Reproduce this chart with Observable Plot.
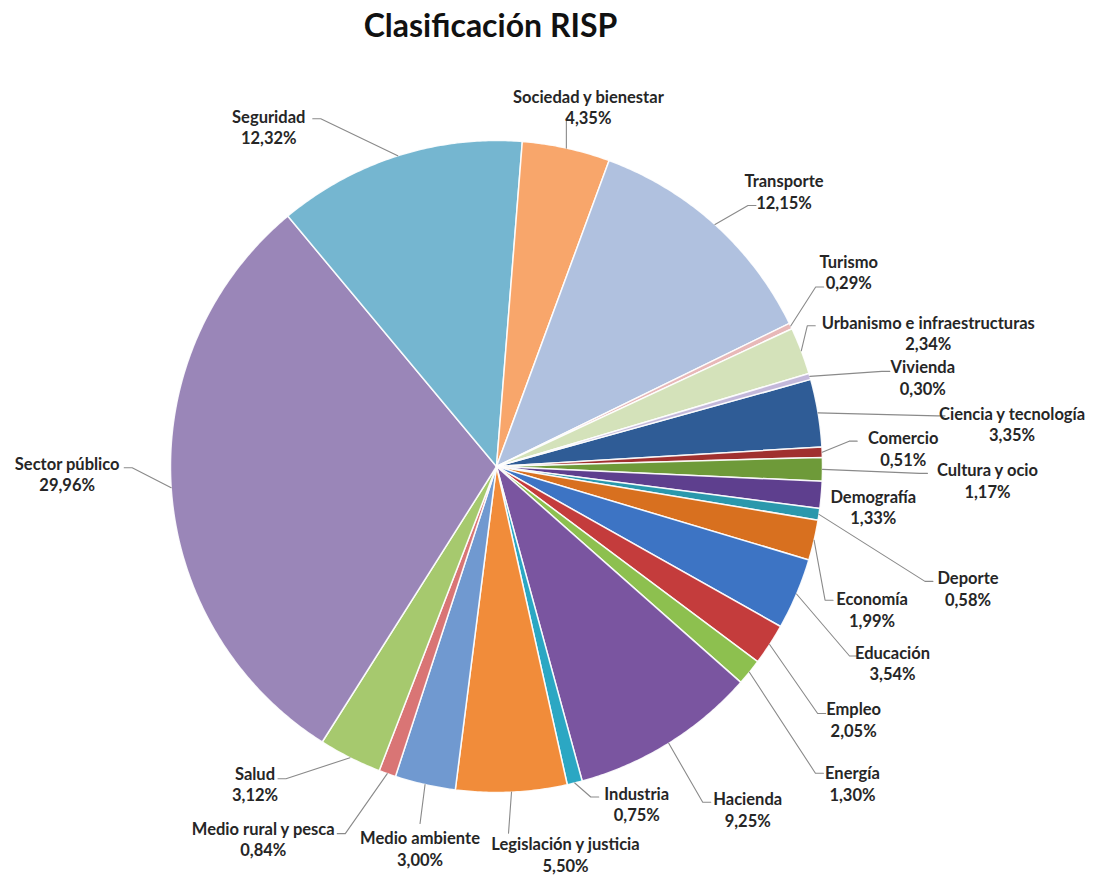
<!DOCTYPE html>
<html><head><meta charset="utf-8">
<script src="https://cdn.jsdelivr.net/npm/d3@7"></script>
<script src="https://cdn.jsdelivr.net/npm/@observablehq/plot@0.6"></script>
<style>
body{margin:0;background:#fff;}
#title{height:72px;box-sizing:border-box;padding-top:9px;width:981px;text-align:center;font:bold 32px/32px Lato,sans-serif;color:#111;}
#chart svg{display:block;}
</style></head><body>
<div id="title">Clasificación RISP</div>
<div id="chart"></div>
<script>
// ---- data ----
const categories = ["Ciencia y tecnología","Comercio","Cultura y ocio","Demografía","Deporte","Economía","Educación","Empleo","Energía","Hacienda","Industria","Legislación y justicia","Medio ambiente","Medio rural y pesca","Salud","Sector público","Seguridad","Sociedad y bienestar","Transporte","Turismo","Urbanismo e infraestructuras","Vivienda"];
const values = [3.35,0.51,1.17,1.33,0.58,1.99,3.54,2.05,1.30,9.25,0.75,5.50,3.00,0.84,3.12,29.96,12.32,4.35,12.15,0.29,2.34,0.30];
// ---- styles ----
const colors = ["#2F5C96","#A0302F","#6E9A39","#5E3F8E","#2A98AC","#D8701F","#3D74C4","#C43C3C","#8DC04F","#7A55A0","#2BA7C3","#F18C3A","#7099D0","#D97575","#A6C96E","#9A86B8","#75B6D0","#F8A66B","#B0C1DF","#E8B8B8","#D4E2BA","#C3B8DA"];
// label layout (px offsets from slice edge at mid-angle): [textX, textY, leaderX, leaderY, side]
const labelLayout = [
  [194,0,127,3,"l"],[81,-15,35,-11,"l"],[165,0,105,4,"l"],[52,1,null,null,null],
  [149,63,114,67,"l"],[58,58,19,60,"l"],[96,58,61,62,"l"],[84,64,56,69,"l"],
  [103,100,74,101,"l"],[79,55,42,59,"l"],[62,10,24,14,"l"],[54,51,-3,41,"v"],
  [-5,53,-5,39,"v"],[-124,54,-50,60,"r"],[-95,15,-72,21,"r"],[-104,-25,-47,-20,"r"],
  [-129,-40,-85,-37,"r"],[22,-52,0,-27,"v"],[69,-44,41,-19,"l"],[58,-65,33,-39,"l"],
  [127,-29,14,-25,"l"],[113,-10,80,-5,"l"]
];
const startAngle = 74.5;
const W = 1104, H = 805, CX = 496, CY = 394, R = 326, LINE = 21.5;

const fmt = v => v.toFixed(2).replace(".", ",") + "%";
const total = d3.sum(values);
let cum = 0;
const slices = categories.map((name, i) => {
  const a0 = startAngle + cum / total * 360; cum += values[i];
  const a1 = startAngle + cum / total * 360;
  return {name, value: values[i], a0, a1, mid: (a0 + a1) / 2};
});
const rad = d => d * Math.PI / 180;
const pt = (deg, r = 1) => [Math.sin(rad(deg)) * r, Math.cos(rad(deg)) * r];

const slicePts = slices.flatMap(s => {
  const n = Math.max(2, Math.ceil((s.a1 - s.a0) / 0.5));
  const pts = [{name: s.name, x: 0, y: 0}];
  for (let k = 0; k <= n; k++) {
    const [x, y] = pt(s.a0 + (s.a1 - s.a0) * k / n);
    pts.push({name: s.name, x, y});
  }
  return pts;
});

const labels = [], leaders = [];
slices.forEach((s, i) => {
  const [x0, y0] = pt(s.mid);
  const [tx, ty, ax, ay, side] = labelLayout[i];
  labels.push({name: s.name, text: `${s.name}\n${fmt(s.value)}`, x: x0 + tx / R, y: y0 - (ty + LINE / 2) / R});
  if (side) {
    const attach = {x: x0 + ax / R, y: y0 - ay / R};
    leaders.push({name: s.name, x: x0, y: y0});
    if (side === "l") leaders.push({name: s.name, x: attach.x - 8 / R, y: attach.y});
    if (side === "r") leaders.push({name: s.name, x: attach.x + 8 / R, y: attach.y});
    leaders.push({name: s.name, ...attach});
  }
});

const chart = Plot.plot({
  width: W, height: H, margin: 0,
  style: {background: "#fff"},
  x: {domain: [-CX / R, (W - CX) / R], axis: null},
  y: {domain: [-(H - CY) / R, CY / R], axis: null},
  color: {domain: categories, range: colors},
  marks: [
    Plot.line(slicePts, {x: "x", y: "y", z: "name", fill: "name", stroke: "#fff", strokeWidth: 1.5, strokeOpacity: 0.9, curve: "linear-closed"}),
    Plot.line(leaders, {x: "x", y: "y", z: "name", stroke: "#8a8a8a", strokeWidth: 1.1}),
    Plot.text(labels, {x: "x", y: "y", text: "text", fontWeight: "bold", fontSize: 16.5, lineHeight: LINE / 16.5, fill: "#262626", fontFamily: "Lato, sans-serif", textAnchor: "middle"})
  ]
});
document.getElementById("chart").append(chart);
</script>
</body></html>
